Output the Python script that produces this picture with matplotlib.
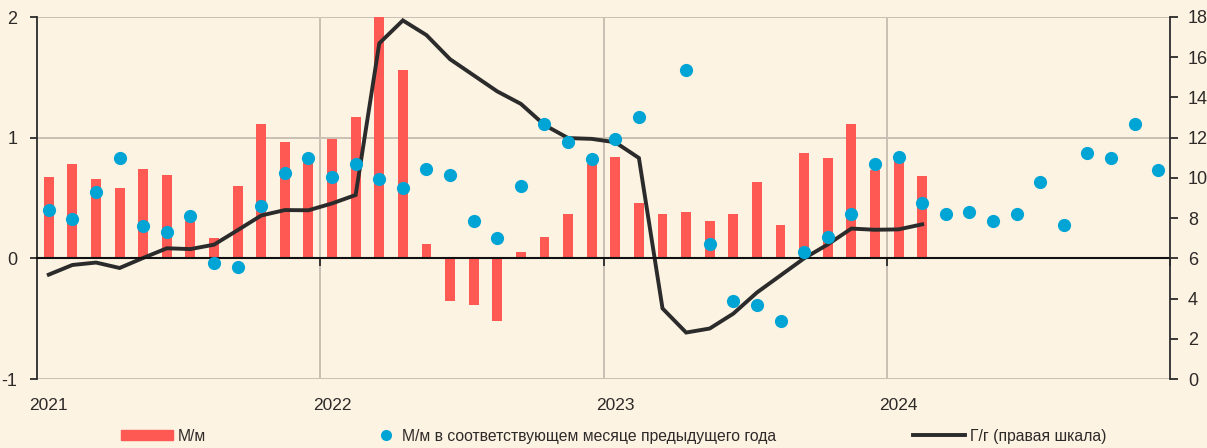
import numpy as np
import matplotlib
matplotlib.use("Agg")
import matplotlib.pyplot as plt
import matplotlib.transforms as mtransforms
from matplotlib.lines import Line2D
from matplotlib.patches import Patch

plt.rcParams["font.family"] = ["Liberation Sans", "DejaVu Sans"]

years = ["2021", "2022", "2023", "2024"]

# М/м, Jan 2021 .. Feb 2024
mm = [0.67, 0.78, 0.66, 0.58, 0.74, 0.69, 0.31, 0.17, 0.60, 1.11, 0.96, 0.82,
      0.99, 1.17, 7.61, 1.56, 0.12, -0.35, -0.39, -0.52, 0.05, 0.18, 0.37, 0.78,
      0.84, 0.46, 0.37, 0.38, 0.31, 0.37, 0.63, 0.28, 0.87, 0.83, 1.11, 0.73,
      0.86, 0.68]

# М/м в соответствующем месяце предыдущего года, Jan 2021 .. Dec 2024
mm_prev = [0.40, 0.33, 0.55, 0.83, 0.27, 0.22, 0.35, -0.04, -0.07, 0.43, 0.71, 0.83,
           0.67, 0.78, 0.66, 0.58, 0.74, 0.69, 0.31, 0.17, 0.60, 1.11, 0.96, 0.82,
           0.99, 1.17, 7.61, 1.56, 0.12, -0.35, -0.39, -0.52, 0.05, 0.18, 0.37, 0.78,
           0.84, 0.46, 0.37, 0.38, 0.31, 0.37, 0.63, 0.28, 0.87, 0.83, 1.11, 0.73]

# Г/г (right scale), Jan 2021 .. Feb 2024
yy = [5.19, 5.67, 5.79, 5.52, 6.02, 6.50, 6.46, 6.68, 7.40, 8.13, 8.40, 8.39,
      8.73, 9.15, 16.69, 17.83, 17.10, 15.90, 15.10, 14.30, 13.68, 12.63, 11.98, 11.94,
      11.77, 10.99, 3.51, 2.31, 2.51, 3.25, 4.30, 5.15, 6.00, 6.69, 7.48, 7.42,
      7.44, 7.69]

bg = "#FCF3E3"
red = "#FF5953"
blue = "#00A5D5"
dark = "#2B2B2B"
grid = "#C9BFB2"
txt = "#2E2A28"
narrow = ["Liberation Sans Narrow", "Liberation Sans", "DejaVu Sans"]

fig = plt.figure(figsize=(12.07, 4.48), dpi=100, facecolor=bg)
ax = fig.add_axes([37 / 1207, 1 - 379 / 448, 1133 / 1207, 362 / 448])
ax.set_facecolor(bg)
ax2 = ax.twinx()

x_bar = np.arange(len(mm)) + 0.5
x_dot = np.arange(len(mm_prev)) + 0.5

ax.bar(x_bar, mm, width=0.42, color=red, zorder=2)
ax.plot(x_bar, yy, color=dark, lw=2.8, zorder=3, transform=ax2.transData,
        solid_joinstyle="miter")
ax.plot(x_dot, mm_prev, "o", color=blue, ms=9.5, mec="none", zorder=4)

ax.set_xlim(0, 48)
ax.set_ylim(-1, 2)
ax2.set_ylim(0, 18)

ax.set_yticks([-1, 0, 1, 2])
ax.set_yticklabels(["-1", "0", "1", "2"], family=narrow)
ax2.set_yticks(range(0, 19, 2))
ax2.set_yticklabels([str(v) for v in range(0, 19, 2)], family=narrow)

ax.grid(axis="y", color=grid, lw=1.4, zorder=0)
for xv in [12, 24, 36]:
    ax.axvline(xv, color=grid, lw=1.4, zorder=0)

for s in ["top", "right"]:
    ax.spines[s].set_visible(False)
for s in ["top", "left", "bottom"]:
    ax2.spines[s].set_visible(False)
ax.spines["left"].set_color(dark)
ax.spines["left"].set_linewidth(1.3)
ax.spines["bottom"].set_position(("data", 0))
ax.spines["bottom"].set_color("#111111")
ax.spines["bottom"].set_linewidth(1.5)
ax.spines["bottom"].set_zorder(3.5)
ax2.spines["right"].set_color(dark)
ax2.spines["right"].set_linewidth(1.3)

ax.set_xticks([12, 24, 36, 48])
ax.set_xticklabels([])
ax.tick_params(axis="x", direction="out", length=6, width=1.3, color=dark)
ax.tick_params(axis="y", direction="out", length=5, width=1.3, color=dark,
               labelsize=13, labelcolor=txt, pad=9)
ax2.tick_params(axis="y", direction="out", length=6, width=1.3, color=dark,
                labelsize=13, labelcolor=txt, pad=7)

trans = mtransforms.blended_transform_factory(ax.transData, ax.transAxes)
for i, yr in enumerate(years):
    ax.text(i * 12 + 0.5, -0.072, yr, transform=trans, ha="center", va="center",
            fontsize=12.5, color=txt)

common = dict(frameon=False, fontsize=11.3, borderpad=0, borderaxespad=0,
              labelcolor=txt, loc="center left")
fig.legend(handles=[Patch(color=red)], labels=["М/м"], handlelength=3.3,
           handleheight=0.65, handletextpad=0.3,
           bbox_to_anchor=(121 / 1207, 12 / 448), **common)
fig.legend(handles=[Line2D([], [], marker="o", ls="none", color=blue, ms=8, mec="none")],
           labels=["М/м в соответствующем месяце предыдущего года"],
           handlelength=1.0, handletextpad=0.5,
           bbox_to_anchor=(378 / 1207, 12 / 448), **common)
fig.legend(handles=[Line2D([], [], color=dark, lw=2.8)], labels=["Г/г (правая шкала)"],
           handlelength=3.3, handletextpad=0.3,
           bbox_to_anchor=(913 / 1207, 12 / 448), **common)

fig.savefig("out.png", dpi=100, facecolor=bg)
